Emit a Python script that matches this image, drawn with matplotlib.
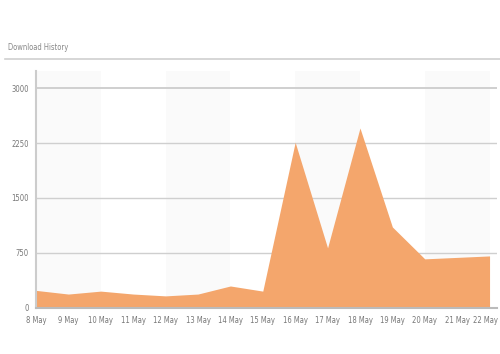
import matplotlib
matplotlib.use('Agg')
import matplotlib.pyplot as plt
import matplotlib.transforms as mtransforms
from matplotlib.lines import Line2D

# data
days = ['8 May', '9 May', '10 May', '11 May', '12 May', '13 May', '14 May', '15 May',
        '16 May', '17 May', '18 May', '19 May', '20 May', '21 May', '22 May']
downloads = [240, 190, 230, 190, 165, 190, 300, 230,
             2260, 820, 2455, 1105, 670, 690, 710]
yticks = [0, 750, 1500, 2250, 3000]

plt.rcParams['font.family'] = ['DejaVu Sans']
plt.rcParams['font.stretch'] = 'condensed'

fig = plt.figure(figsize=(5, 3.54), dpi=100)
ax = fig.add_axes([0.072, 0.130, 0.922, 0.669])

x = list(range(len(days)))

# faint alternating bands, two days wide
for start in range(0, len(days) + 1, 4):
    ax.axvspan(start, start + 2, color='#fafafa', zorder=0, lw=0)

ax.fill_between(x, downloads, 0, color='#f4a66c', lw=0, zorder=2)

for v in yticks[1:]:
    ax.axhline(v, color='#cfcfcf', lw=1.4 if v == 3000 else 1.0, zorder=1)

ax.set_xlim(0, 14.23)
ax.set_ylim(0, 3230)
ax.set_xticks(x)
ax.set_xticklabels(days)
ax.set_yticks(yticks)
ax.tick_params(axis='both', length=0, labelsize=5.5, colors='#777777')
ax.tick_params(axis='x', pad=6)
ax.tick_params(axis='y', pad=5)

# nudge the last date label so it stays inside the figure
last = ax.get_xticklabels()[-1]
last.set_transform(last.get_transform() +
                   mtransforms.ScaledTranslation(-4 / 100, 0, fig.dpi_scale_trans))

for side in ['top', 'right']:
    ax.spines[side].set_visible(False)
ax.spines['left'].set_color('#cccccc')
ax.spines['left'].set_linewidth(1.5)
ax.spines['bottom'].set_color('#bbbbbb')
ax.spines['bottom'].set_linewidth(1.5)

fig.text(0.016, 0.866, 'Download History', fontsize=5.5, color='#888888', va='center')
fig.add_artist(Line2D([0.01, 1.0], [0.833, 0.833], color='#d0d0d0', lw=1.2,
                      transform=fig.transFigure))

fig.savefig('out.png', dpi=100)
